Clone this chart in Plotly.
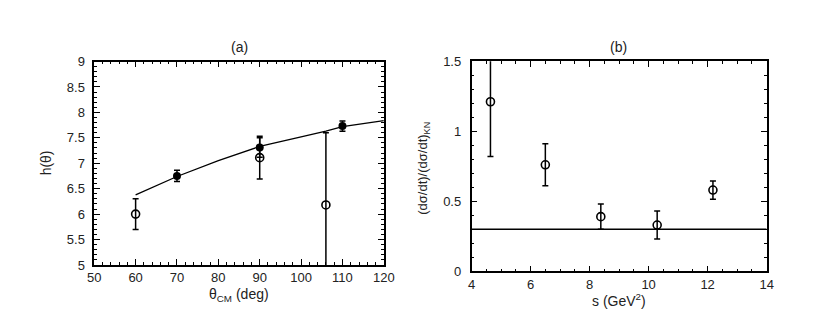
import plotly.graph_objects as go

# Panel (a): h(theta) vs theta_CM
theta_curve = [60, 70, 80, 90, 100, 106, 110, 120]
h_curve = [6.38, 6.74, 7.05, 7.33, 7.52, 7.63, 7.72, 7.84]

theta_filled = [70, 90, 110]
h_filled = [6.75, 7.31, 7.73]
h_filled_err = [0.11, 0.19, 0.1]

theta_open = [60, 90, 106]
h_open = [6.0, 7.11, 6.18]
h_open_err = [0.3, 0.42, 1.42]

# Panel (b): ratio vs s
s_vals = [4.64, 6.5, 8.38, 10.29, 12.18]
ratio_vals = [1.21, 0.76, 0.39, 0.33, 0.58]
ratio_err = [0.39, 0.15, 0.09, 0.1, 0.065]

s_line = [4, 14]
ratio_line = [0.3, 0.3]

font_name = "Liberation Sans"
W, H = 830, 335


def px(x):
    return x / W


def py(y):
    return 1 - y / H


fig = go.Figure()

fig.add_trace(go.Scatter(x=theta_curve, y=h_curve, mode="lines",
                         line=dict(color="black", width=1.3),
                         xaxis="x", yaxis="y", showlegend=False))
fig.add_trace(go.Scatter(x=theta_open, y=h_open, mode="markers",
                         marker=dict(symbol="circle-open", size=8, color="black", line=dict(width=1.6)),
                         error_y=dict(type="data", array=h_open_err, color="black", thickness=1.5, width=3),
                         xaxis="x", yaxis="y", showlegend=False))
fig.add_trace(go.Scatter(x=theta_filled, y=h_filled, mode="markers",
                         marker=dict(symbol="circle", size=8, color="black"),
                         error_y=dict(type="data", array=h_filled_err, color="black", thickness=1.5, width=3),
                         xaxis="x", yaxis="y", showlegend=False))

fig.add_trace(go.Scatter(x=s_line, y=ratio_line, mode="lines",
                         line=dict(color="black", width=1.5),
                         xaxis="x2", yaxis="y2", showlegend=False))
fig.add_trace(go.Scatter(x=s_vals, y=ratio_vals, mode="markers",
                         marker=dict(symbol="circle-open", size=8, color="black", line=dict(width=1.6)),
                         error_y=dict(type="data", array=ratio_err, color="black", thickness=1.5, width=3),
                         xaxis="x2", yaxis="y2", showlegend=False))

axis_style = dict(showline=True, linecolor="black", linewidth=1.5, mirror="allticks",
                  ticks="inside", ticklen=6, tickwidth=1, tickcolor="black",
                  showgrid=False, zeroline=False,
                  tickfont=dict(family=font_name, size=13, color="#222"))

fig.update_layout(
    width=W, height=H,
    margin=dict(l=0, r=0, t=0, b=0),
    paper_bgcolor="white", plot_bgcolor="white",
    font=dict(family=font_name, size=13, color="#222"),
    xaxis=dict(domain=[px(81), px(377)], anchor="y", range=[50, 120], dtick=10,
               minor=dict(dtick=2, ticklen=3, ticks="inside", tickcolor="black"), **axis_style),
    yaxis=dict(domain=[py(261.7), py(48.7)], anchor="x", range=[5, 9], dtick=0.5,
               ticklabelstandoff=5,
               minor=dict(dtick=0.1, ticklen=3, ticks="inside", tickcolor="black"), **axis_style),
    xaxis2=dict(domain=[px(466.7), px(768.3)], anchor="y2", range=[4, 14], dtick=2,
                minor=dict(dtick=0.5, ticklen=3, ticks="inside", tickcolor="black"), **axis_style),
    yaxis2=dict(domain=[py(268.3), py(48.3)], anchor="x2", range=[0, 1.5], dtick=0.5,
                ticklabelstandoff=6,
                minor=dict(dtick=0.1, ticklen=3, ticks="inside", tickcolor="black"), **axis_style),
)

annotations = [
    dict(text="(a)", x=px(229), y=py(34), font=dict(size=14)),
    dict(text="(b)", x=px(617), y=py(33), font=dict(size=14)),
    dict(text="h(θ)", x=px(32), y=py(155), textangle=-90, font=dict(size=14)),
    dict(text="(dσ/dt)/(dσ/dt)<sub>KN</sub>", x=px(418), y=py(160), textangle=-90, font=dict(size=13)),
    dict(text="θ<sub>CM</sub> (deg)", x=px(229), y=py(293), font=dict(size=14)),
    dict(text="s (GeV<sup>2</sup>)", x=px(617), y=py(298), font=dict(size=14)),
]
for a in annotations:
    fig.add_annotation(xref="paper", yref="paper", showarrow=False,
                       xanchor="center", yanchor="middle", **a)

fig.write_html("out.html")
